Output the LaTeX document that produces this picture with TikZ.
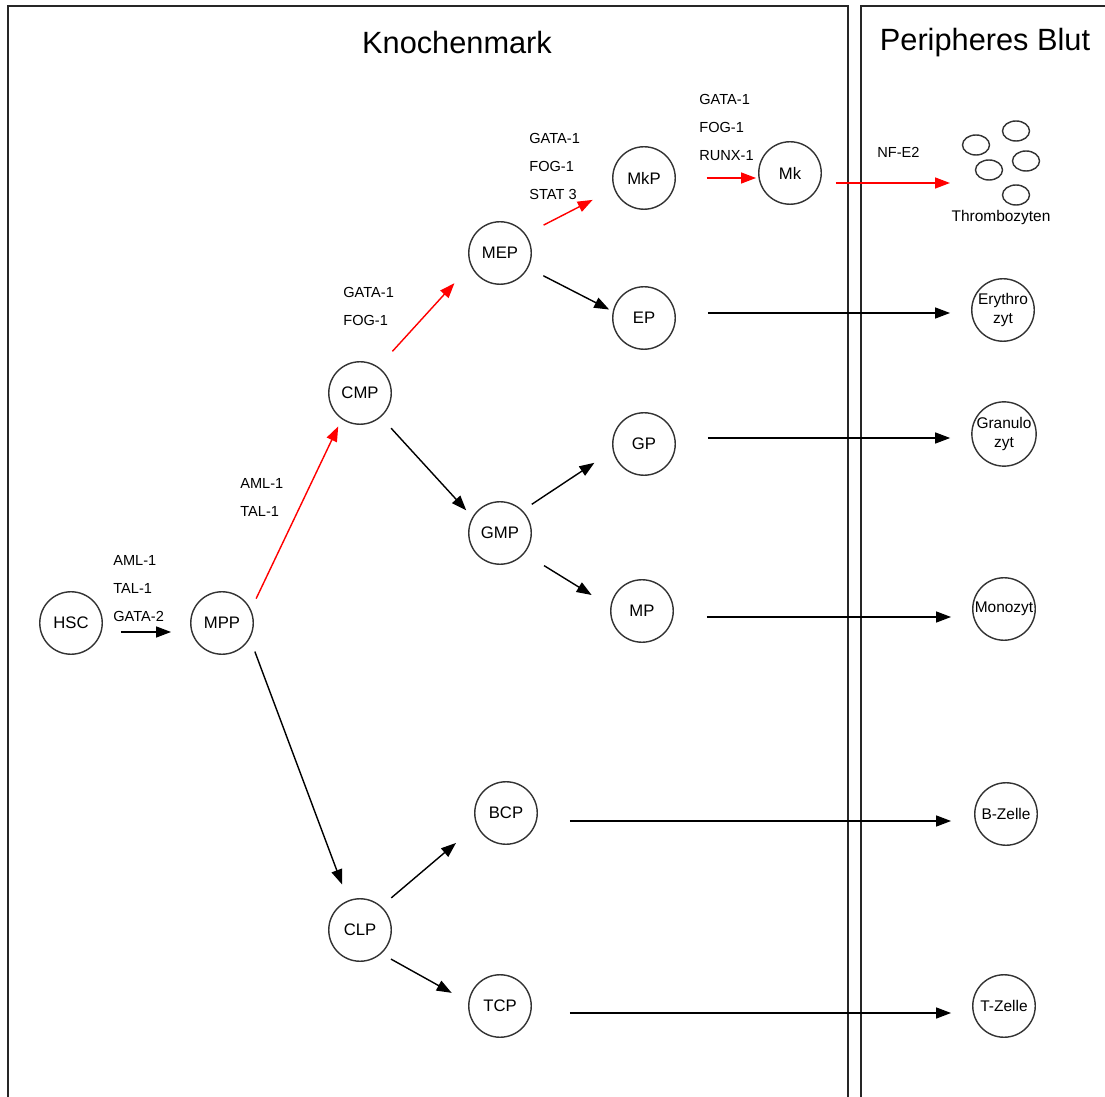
\documentclass[tikz,border=0pt]{standalone}
\usepackage{fontspec}
\setmainfont{Liberation Sans}
\usetikzlibrary{arrows.meta}
\definecolor{cellLine}{HTML}{333333}
\definecolor{tfRed}{HTML}{FF0000}

\begin{document}
\begin{tikzpicture}[x=0.02cm,y=-0.02cm,
    cell/.style={circle,draw=cellLine,line width=0.8pt,minimum size=1.25cm,
                 inner sep=0pt,font=\fontsize{9.5}{11}\selectfont},
    blood/.style={cell,align=center,font=\fontsize{8.8}{10.8}\selectfont},
    tf/.style={font=\fontsize{8.3}{15.9}\selectfont,align=left,inner sep=0pt,anchor=north west},
    title/.style={font=\fontsize{17.5}{20}\selectfont},
    frame/.style={draw=black!85,line width=1pt},
    plt/.style={draw=cellLine,line width=0.8pt},
    arr/.style={-{Triangle[length=0.3cm,width=0.22cm]},line width=0.8pt},
    arrR/.style={arr,draw=tfRed,fill=tfRed}
  ]
  \useasboundingbox (0,0) rectangle (1105,1097);

  % two compartments, open at the bottom
  \draw[frame] (8,1097) -- (8,6) -- (848,6) -- (848,1097);
  \draw[frame] (861,1097) -- (861,6) -- (1105,6);
  \node[title] (km)   at (457,43) {Knochenmark};
  \node[title] (blut) at (985,43) {Peripheres Blut};

  \node[cell] (HSC) at ( 71,623) {HSC};
  \node[cell] (MPP) at (222,623) {MPP};
  \node[cell] (CMP) at (360,393) {CMP};
  \node[cell] (CLP) at (360,930) {CLP};
  \node[cell] (MEP) at (500,253) {MEP};
  \node[cell] (GMP) at (500,533) {GMP};
  \node[cell] (BCP) at (506,813) {BCP};
  \node[cell] (TCP) at (500,1006) {TCP};
  \node[cell] (MkP) at (644,178) {MkP};
  \node[cell] (EP)  at (644,318) {EP};
  \node[cell] (GP)  at (644,444) {GP};
  \node[cell] (MP)  at (642,611) {MP};
  \node[cell] (Mk)  at (790,173) {Mk};

  \node[blood] (ery)  at (1003,310) {Erythro\\zyt};
  \node[blood] (gran) at (1004,434) {Granulo\\zyt};
  \node[blood] (mono) at (1004,609) {Monozyt};
  \node[blood] (bz)   at (1006,814) {B-Zelle};
  \node[blood] (tz)   at (1004,1006) {T-Zelle};

  \draw[plt] (976,145) ellipse [x radius=0.27cm,y radius=0.2cm];
  \draw[plt] (1016,131) ellipse [x radius=0.27cm,y radius=0.2cm];
  \draw[plt] (989,170) ellipse [x radius=0.27cm,y radius=0.2cm];
  \draw[plt] (1026,161) ellipse [x radius=0.27cm,y radius=0.2cm];
  \draw[plt] (1016,195) ellipse [x radius=0.27cm,y radius=0.2cm];
  \node[font=\fontsize{8.8}{10}\selectfont] (thrlbl) at (1001,218) {Thrombozyten};
  \coordinate (thr) at (950,183);

  \node[tf] (tf1) at (113,555) {AML-1\\TAL-1\\GATA-2};
  \node[tf] (tf2) at (240,478) {AML-1\\TAL-1};
  \node[tf] (tf3) at (343,287) {GATA-1\\FOG-1};
  \node[tf] (tf4) at (529,133) {GATA-1\\FOG-1\\STAT 3};
  \node[tf] (tf5) at (699,94)  {GATA-1\\FOG-1\\RUNX-1};
  \node[tf] (tf6) at (877,147) {NF-E2};

  \draw[arr]  ([yshift=-0.18cm]HSC.east) -- ([yshift=-0.18cm]MPP.west)
              [shorten <=0.36cm,shorten >=0.38cm];
  \draw[arrR,shorten <=0.24cm,shorten >=0.16cm] (MPP.25) -- (CMP.235);
  \draw[arr,shorten <=0.28cm,shorten >=0.34cm]  (MPP.-29) -- (CLP.112);
  \draw[arrR,shorten <=0.42cm,shorten >=0.48cm] (CMP.55) -- (MEP.203);
  \draw[arr,shorten <=0.3cm,shorten >=0.18cm]   (CMP.-49) -- (GMP.150);
  \draw[arrR,shorten <=0.4cm,shorten >=0.48cm]  (MEP.36) -- (MkP.200);
  \draw[arr,shorten <=0.34cm,shorten >=0.08cm]  (MEP.-28) -- (EP.168);
  \draw[arr,shorten <=0.22cm,shorten >=0.44cm]  (GMP.45) -- (GP.192);
  \draw[arr,shorten <=0.46cm,shorten >=0.44cm]  (GMP.-40) -- (MP.172);
  \draw[arr,shorten <=0.26cm,shorten >=0.54cm]  (CLP.48) -- (BCP.203);
  \draw[arr,shorten <=0.22cm,shorten >=0.38cm]  (CLP.-48) -- (TCP.173);
  \draw[arrR,shorten <=0.62cm,shorten >=0.04cm] (MkP.east) -- (MkP.east -| Mk.west);
  \draw[arrR,shorten <=0.28cm] (Mk.east |- thr) -- (thr);

  \draw[arr,shorten <=0.64cm,shorten >=0.42cm] ([yshift=0.1cm]EP.east) -- ([yshift=0.1cm]EP.east -| ery.west);
  \draw[arr,shorten <=0.64cm,shorten >=0.42cm] ([yshift=0.12cm]GP.east) -- ([yshift=0.12cm]GP.east -| gran.west);
  \draw[arr,shorten <=0.66cm,shorten >=0.42cm] ([yshift=-0.12cm]MP.east) -- ([yshift=-0.12cm]MP.east -| mono.west);
  \draw[arr,shorten <=0.64cm,shorten >=0.46cm] ([yshift=-0.16cm]BCP.east) -- ([yshift=-0.16cm]BCP.east -| bz.west);
  \draw[arr,shorten <=0.76cm,shorten >=0.42cm] ([yshift=-0.14cm]TCP.east) -- ([yshift=-0.14cm]TCP.east -| tz.west);
\end{tikzpicture}
\end{document}
